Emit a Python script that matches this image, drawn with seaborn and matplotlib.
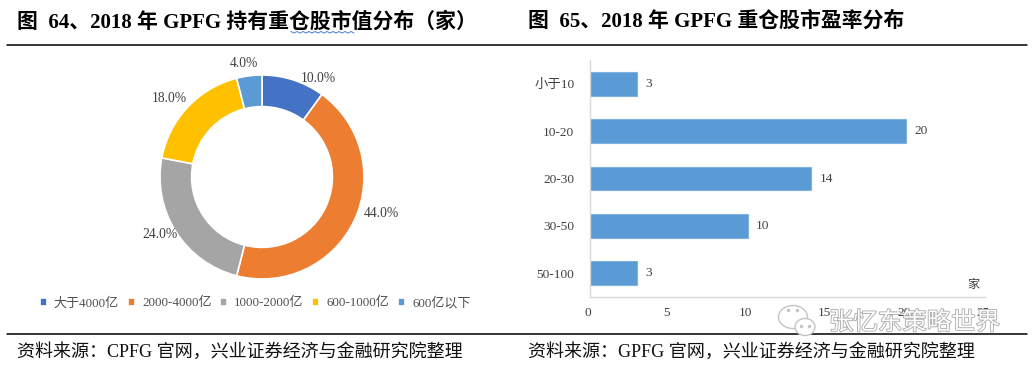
import matplotlib.pyplot as plt
import matplotlib.patheffects as pe
from matplotlib.lines import Line2D
from matplotlib.patches import Ellipse
from matplotlib.transforms import ScaledTranslation
import pandas as pd
import seaborn as sns

W, H = 1034, 369

# donut data
pie_labels = ["大于4000亿", "2000-4000亿", "1000-2000亿", "600-1000亿", "600亿以下"]
pie_values = [10.0, 44.0, 24.0, 18.0, 4.0]
pie_colors = ["#4472C4", "#ED7D31", "#A5A5A5", "#FFC000", "#5B9BD5"]
# nudges of the percent labels, in pixels
pct_nudge = [(20, -15), (11, 14), (-1, 6), (-6, -3), (-3, -5)]

# bar data
bar_labels = ["小于10", "10-20", "20-30", "30-50", "50-100"]
bar_values = [3, 20, 14, 10, 3]
bar_ticks = [0, 5, 10, 15, 20, 25]

title_left = "图  64、2018 年 GPFG 持有重仓股市值分布（家）"
title_right = "图  65、2018 年 GPFG 重仓股市盈率分布"
source_left = "资料来源：CPFG 官网，兴业证券经济与金融研究院整理"
source_right = "资料来源：GPFG 官网，兴业证券经济与金融研究院整理"
watermark = "张忆东策略世界"

sns.set_theme(style="white")
plt.rcParams["font.family"] = ["Liberation Serif", "Noto Sans CJK SC", "DejaVu Sans"]

fig = plt.figure(figsize=(W / 100, H / 100), dpi=100)


def px_axes(left, top, right, bottom):
    return fig.add_axes([left / W, 1 - bottom / H, (right - left) / W, (bottom - top) / H])


def fig_text(x, y, s, **kw):
    return fig.text(x / W, 1 - y / H, s, va="center", **kw)


# header and footer rules
for y in [45, 334]:
    fig.add_artist(Line2D([7 / W, 1027 / W], [1 - y / H] * 2, color="black", lw=1.1))

fig_text(17, 22, title_left, fontsize=15, fontweight="bold", color="black")
fig_text(528, 22, title_right, fontsize=15, fontweight="bold", color="black")
fig_text(17, 352, source_left, fontsize=13, color="#111111")
fig_text(528, 352, source_right, fontsize=13, color="#111111")

# donut
ax1 = px_axes(160, 75, 364, 279)
wedges, _, pct = ax1.pie(
    pie_values,
    colors=pie_colors,
    startangle=90,
    counterclock=False,
    radius=1,
    autopct="%.1f%%",
    pctdistance=1.17,
    wedgeprops={"width": 0.31, "edgecolor": "white", "linewidth": 1.2},
    textprops={"fontsize": 9.8, "color": "#404040"},
)
ax1.set_xlim(-1, 1)
ax1.set_ylim(-1, 1)
for t, (dx, dy) in zip(pct, pct_nudge):
    x, y = t.get_position()
    t.set_position((x + dx / 102, y + dy / 102))
    t.set_clip_on(False)

fig.legend(
    wedges,
    pie_labels,
    loc="center",
    bbox_to_anchor=(255 / W, 1 - 303 / H),
    ncols=5,
    frameon=False,
    fontsize=9.4,
    labelcolor="#505050",
    handlelength=0.55,
    handleheight=0.55,
    handletextpad=0.55,
    columnspacing=0.65,
    borderpad=0,
)

# horizontal bars
ax2 = px_axes(589.5, 60, 985, 297)
df = pd.DataFrame({"pe": bar_labels, "n": bar_values})
sns.barplot(data=df, y="pe", x="n", color="#5B9BD5", saturation=1, width=0.5,
            edgecolor="#7FB2E0", linewidth=0.8, ax=ax2)
ax2.bar_label(ax2.containers[0], padding=6, fontsize=9.6, color="#404040")
ax2.set_xlim(0, 25)
ax2.set_xticks(bar_ticks)
ax2.set_xlabel("")
ax2.set_ylabel("")
ax2.tick_params(axis="x", length=0, pad=7, labelsize=9.6, labelcolor="#404040")
ax2.tick_params(axis="y", length=0, pad=11, labelsize=9.6, labelcolor="#404040")
shift = ScaledTranslation(-2 / 100, 0, fig.dpi_scale_trans)
for t in ax2.get_xticklabels():
    t.set_transform(t.get_transform() + shift)
sns.despine(ax=ax2, top=True, right=True)
for side in ["left", "bottom"]:
    ax2.spines[side].set_color("#D9D9D9")
    ax2.spines[side].set_linewidth(1)
fig_text(973, 285, "家", fontsize=8.8, color="#404040", ha="center")

# overlay in pixel coordinates: watermark and spell-check squiggle
ax3 = fig.add_axes([0, 0, 1, 1], zorder=9)
ax3.set_xlim(0, W)
ax3.set_ylim(H, 0)
ax3.axis("off")
ax3.patch.set_alpha(0)
ax3.add_patch(Ellipse((793, 317), 29, 23, fc="white", ec="#C4C4C4", lw=1))
ax3.add_patch(Ellipse((805, 327), 20, 17, fc="white", ec="#C4C4C4", lw=1))
ax3.plot([788, 797, 801, 809], [310, 310, 326, 326], ls="none", marker="o", ms=1.5, color="#C4C4C4")
wm = ax3.text(829, 323, watermark, fontsize=17.6, color="white", va="center")
wm.set_path_effects([pe.withStroke(linewidth=1.2, foreground="#A8A8A8")])
squig_x = list(range(291, 356, 3))
squig_y = [31.5 + (i % 2) * 1.6 for i in range(len(squig_x))]
ax3.plot(squig_x, squig_y, color="#4A7FD0", lw=0.7)

fig.savefig("out.png", dpi=100)
